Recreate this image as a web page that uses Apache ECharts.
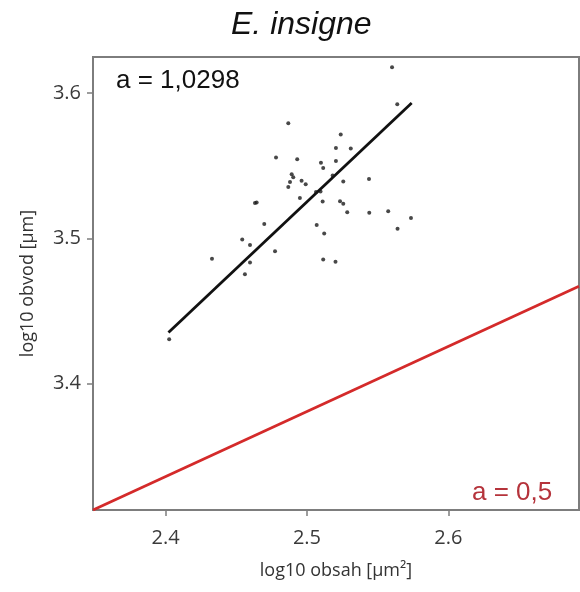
<!DOCTYPE html>
<html>
<head>
<meta charset="utf-8">
<script src="https://cdn.jsdelivr.net/npm/echarts@6/dist/echarts.min.js"></script>
<style>html,body{margin:0;padding:0;background:#fff}#c{width:580px;height:592px}</style>
</head>
<body>
<div id="c"></div>
<script>
// Scatter data: log10 obsah (x) vs log10 obvod (y)
const obsah = [2.4025,2.4328,2.4542,2.4561,2.4597,2.4597,2.4632,2.4644,2.4698,2.4774,2.4781,2.4868,2.4868,2.4880,2.4903,2.4892,2.4931,2.4950,2.4962,2.4991,2.5064,2.5096,2.5069,2.5099,2.5115,2.5111,2.5122,2.5115,2.5202,2.5182,2.5205,2.5205,2.5239,2.5310,2.5257,2.5234,2.5257,2.5285,2.5439,2.5441,2.5575,2.5602,2.5639,2.5641,2.5736];
const obvod = [3.4306,3.4859,3.4993,3.4754,3.4954,3.4834,3.5243,3.5246,3.5099,3.4912,3.5556,3.5792,3.5354,3.5388,3.5421,3.5441,3.5545,3.5278,3.5397,3.5372,3.5319,3.5323,3.5092,3.5521,3.5485,3.5254,3.5034,3.4855,3.4839,3.5433,3.5533,3.5621,3.5714,3.5618,3.5392,3.5256,3.5238,3.5179,3.5409,3.5176,3.5186,3.6177,3.5923,3.5066,3.5140];
// Fitted line (a = 1,0298) endpoints
const fitX = [2.4020, 2.5741];
const fitY = [3.4352, 3.5931];
// Reference line (a = 0,5) endpoints
const refX = [2.3486, 2.6925];
const refY = [3.3131, 3.4671];
// Axis ranges and tick labels
const xRange = [2.3486, 2.6925];
const yRange = [3.3131, 3.6248];
const xTicks = [2.4, 2.5, 2.6];
const yTicks = [3.4, 3.5, 3.6];
const titleText = 'E. insigne';
const fitLabel = 'a = 1,0298';
const refLabel = 'a = 0,5';
const xName = 'log10 obsah [µm²]';
const yName = 'log10 obvod [µm]';

const chart = echarts.init(document.getElementById('c'), null, {renderer: 'canvas'});
const axisGray = '#7d7d7d';
const labelFont = 'Open Sans';
chart.setOption({
  animation: false,
  backgroundColor: '#fff',
  grid: {left: 93, right: 1, top: 57, bottom: 82, show: true, borderColor: axisGray, borderWidth: 2, outerBoundsMode: 'none'},
  xAxis: {
    type: 'value', min: xRange[0], max: xRange[1],
    name: xName, nameLocation: 'middle', nameGap: 52,
    nameTextStyle: {fontSize: 18, color: '#333', fontFamily: labelFont},
    axisLine: {show: true, lineStyle: {color: axisGray, width: 2}},
    axisTick: {show: true, length: 6, lineStyle: {color: axisGray, width: 1.5}, customValues: xTicks},
    axisLabel: {fontSize: 20, color: '#3a3a3a', fontFamily: labelFont, margin: 18, customValues: xTicks, formatter: v => v.toFixed(1)},
    splitLine: {show: false}
  },
  yAxis: {
    type: 'value', min: yRange[0], max: yRange[1],
    name: yName, nameLocation: 'middle', nameGap: 56, nameRotate: 90,
    nameTextStyle: {fontSize: 18, color: '#333', fontFamily: labelFont},
    axisLine: {show: true, lineStyle: {color: axisGray, width: 2}},
    axisTick: {show: true, length: 6, lineStyle: {color: axisGray, width: 1.5}, customValues: yTicks},
    axisLabel: {fontSize: 20, color: '#3a3a3a', fontFamily: labelFont, margin: 12, customValues: yTicks, formatter: v => v.toFixed(1)},
    splitLine: {show: false}
  },
  graphic: [
    {type: 'text', left: 231, top: 9, style: {text: titleText, font: 'italic 32px "Liberation Sans"', fill: '#111'}},
    {type: 'text', left: 116, top: 68, style: {text: fitLabel, font: '26px "Liberation Sans"', fill: '#111'}},
    {type: 'text', left: 472, top: 480, style: {text: refLabel, font: '26px "Liberation Sans"', fill: '#b5333b'}}
  ],
  series: [
    {type: 'line', data: refX.map((x, i) => [x, refY[i]]), symbol: 'none', lineStyle: {color: '#d42a2a', width: 2.8}, z: 2},
    {type: 'line', data: fitX.map((x, i) => [x, fitY[i]]), symbol: 'none', lineStyle: {color: '#111', width: 2.8}, z: 3},
    {type: 'scatter', data: obsah.map((x, i) => [x, obvod[i]]), symbolSize: 4, itemStyle: {color: '#1a1a1a'}, z: 4}
  ]
});
</script>
</body>
</html>
